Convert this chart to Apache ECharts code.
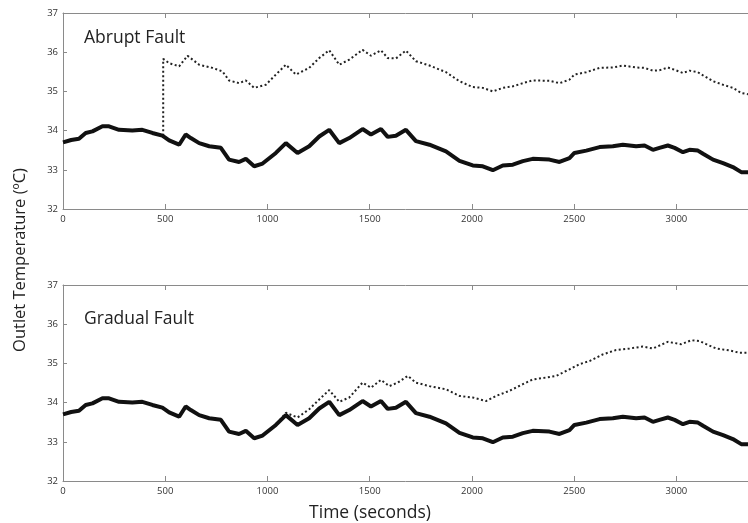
<!DOCTYPE html>
<html>
<head>
<meta charset="utf-8">
<script src="https://cdn.jsdelivr.net/npm/echarts@6/dist/echarts.min.js"></script>
<style>html,body{margin:0;padding:0;background:#fff;}#c{width:748px;height:523px;}</style>
</head>
<body>
<div id="c"></div>
<script>
const baseTime = [0,40,78,111,144,193,225,274,339,388,437,486,519,568,600,625,666,715,772,812,861,894,935,976,1041,1090,1147,1204,1253,1302,1351,1400,1465,1506,1555,1588,1628,1677,1726,1792,1873,1939,2004,2053,2102,2151,2200,2249,2297,2379,2428,2477,2501,2559,2624,2689,2738,2803,2844,2885,2917,2958,2991,3032,3064,3105,3130,3179,3228,3276,3317,3350];
const baseTemp = [33.70,33.76,33.79,33.94,33.98,34.11,34.11,34.02,34.00,34.02,33.94,33.87,33.75,33.64,33.90,33.81,33.68,33.60,33.56,33.26,33.20,33.28,33.09,33.16,33.43,33.68,33.43,33.60,33.85,34.02,33.68,33.81,34.04,33.90,34.04,33.84,33.87,34.02,33.73,33.64,33.47,33.23,33.11,33.09,32.99,33.11,33.13,33.22,33.28,33.26,33.20,33.30,33.43,33.49,33.58,33.60,33.64,33.60,33.62,33.51,33.56,33.62,33.56,33.45,33.51,33.49,33.41,33.26,33.17,33.07,32.94,32.94];

const abruptTime = [490,490,519,568,609,666,731,780,812,861,894,935,992,1041,1090,1139,1204,1253,1302,1351,1400,1465,1506,1555,1588,1628,1677,1726,1792,1873,1939,2004,2053,2102,2151,2200,2249,2297,2379,2428,2477,2501,2559,2624,2689,2738,2803,2844,2885,2917,2958,2991,3032,3064,3105,3130,3179,3228,3276,3317,3350];
const abruptTemp = [33.87,35.83,35.72,35.64,35.91,35.68,35.60,35.51,35.28,35.21,35.28,35.09,35.17,35.43,35.68,35.43,35.60,35.85,36.05,35.68,35.81,36.06,35.91,36.05,35.85,35.84,36.04,35.77,35.66,35.49,35.26,35.11,35.09,35.00,35.09,35.13,35.21,35.28,35.27,35.21,35.30,35.43,35.49,35.60,35.61,35.66,35.61,35.60,35.53,35.54,35.61,35.55,35.47,35.53,35.49,35.41,35.26,35.17,35.09,34.96,34.93];

const gradualTime = [1060,1090,1147,1204,1253,1302,1351,1400,1465,1506,1555,1596,1637,1686,1726,1792,1873,1939,2004,2069,2118,2183,2249,2297,2363,2412,2477,2526,2575,2640,2705,2771,2836,2885,2958,3024,3073,3113,3146,3195,3260,3309,3350];
const gradualTemp = [33.55,33.74,33.62,33.83,34.08,34.32,34.02,34.13,34.51,34.38,34.58,34.42,34.51,34.68,34.51,34.42,34.34,34.17,34.13,34.04,34.17,34.30,34.47,34.59,34.64,34.68,34.85,34.98,35.06,35.23,35.34,35.38,35.43,35.38,35.55,35.49,35.59,35.57,35.49,35.38,35.33,35.27,35.27];

const xTicks = {min: 0, max: 3350, interval: 500};
const yTicks = {min: 32, max: 37, interval: 1};
const panelTitles = ['Abrupt Fault', 'Gradual Fault'];
const yAxisTitle = 'Outlet Temperature (ºC)';
const xAxisTitle = 'Time (seconds)';

const pairs = (t, v) => t.map((x, i) => [x, v[i]]);
const FONT = '"Open Sans", "Noto Sans", sans-serif';
const axisColor = '#8a8a8a';

function bottomX(gi) {
  return {
    type: 'value', gridIndex: gi, position: 'bottom',
    min: xTicks.min, max: xTicks.max, interval: xTicks.interval,
    axisLine: {show: true, lineStyle: {color: axisColor, width: 1}},
    axisTick: {show: true, inside: true, length: 5, lineStyle: {color: axisColor}},
    axisLabel: {show: true, showMaxLabel: false, color: '#333', fontSize: 9.5, fontFamily: FONT, margin: 5, formatter: v => String(v)},
    splitLine: {show: false}
  };
}
function topX(gi) {
  return {
    type: 'value', gridIndex: gi, position: 'top',
    min: xTicks.min, max: xTicks.max, interval: xTicks.interval,
    axisLine: {show: true, onZero: false, lineStyle: {color: axisColor, width: 1}},
    axisTick: {show: true, inside: true, length: 5, lineStyle: {color: axisColor}},
    axisLabel: {show: false},
    splitLine: {show: false}
  };
}
function leftY(gi) {
  return {
    type: 'value', gridIndex: gi,
    min: yTicks.min, max: yTicks.max, interval: yTicks.interval,
    axisLine: {show: true, onZero: false, lineStyle: {color: axisColor, width: 1}},
    axisTick: {show: true, inside: true, length: 4, lineStyle: {color: axisColor}},
    axisLabel: {color: '#333', fontSize: 9.5, fontFamily: FONT, margin: 5},
    splitLine: {show: false}
  };
}

const solidStyle = {color: '#111', width: 4};
const dotStyle = {color: '#222', width: 2, type: [2, 2.5]};
const titleStyle = {fontSize: 17.5, fontWeight: 'normal', color: '#222', fontFamily: FONT};

const chart = echarts.init(document.getElementById('c'), null, {renderer: 'canvas'});
chart.setOption({
  backgroundColor: '#fff',
  animation: false,
  grid: [
    {left: 63, top: 13, right: 0, height: 196},
    {left: 63, top: 285, right: 0, height: 196}
  ],
  xAxis: [bottomX(0), topX(0), bottomX(1), topX(1)],
  yAxis: [leftY(0), leftY(1)],
  title: [
    {text: panelTitles[0], left: 84, top: 29, padding: 0, textStyle: titleStyle},
    {text: panelTitles[1], left: 84, top: 310, padding: 0, textStyle: titleStyle}
  ],
  graphic: [
    {type: 'text', x: 20, y: 260, rotation: Math.PI / 2, style: {text: yAxisTitle, fontSize: 16.5, fontFamily: FONT, fill: '#222', align: 'center', verticalAlign: 'middle'}},
    {type: 'text', x: 370, y: 513, style: {text: xAxisTitle, fontSize: 17.5, fontFamily: FONT, fill: '#222', align: 'center', verticalAlign: 'middle'}}
  ],
  series: [
    {type: 'line', xAxisIndex: 0, yAxisIndex: 0, data: pairs(abruptTime, abruptTemp), showSymbol: false, lineStyle: dotStyle, z: 2},
    {type: 'line', xAxisIndex: 0, yAxisIndex: 0, data: pairs(baseTime, baseTemp), showSymbol: false, lineStyle: solidStyle, z: 3},
    {type: 'line', xAxisIndex: 2, yAxisIndex: 1, data: pairs(gradualTime, gradualTemp), showSymbol: false, lineStyle: dotStyle, z: 2},
    {type: 'line', xAxisIndex: 2, yAxisIndex: 1, data: pairs(baseTime, baseTemp), showSymbol: false, lineStyle: solidStyle, z: 3}
  ]
});
</script>
</body>
</html>
